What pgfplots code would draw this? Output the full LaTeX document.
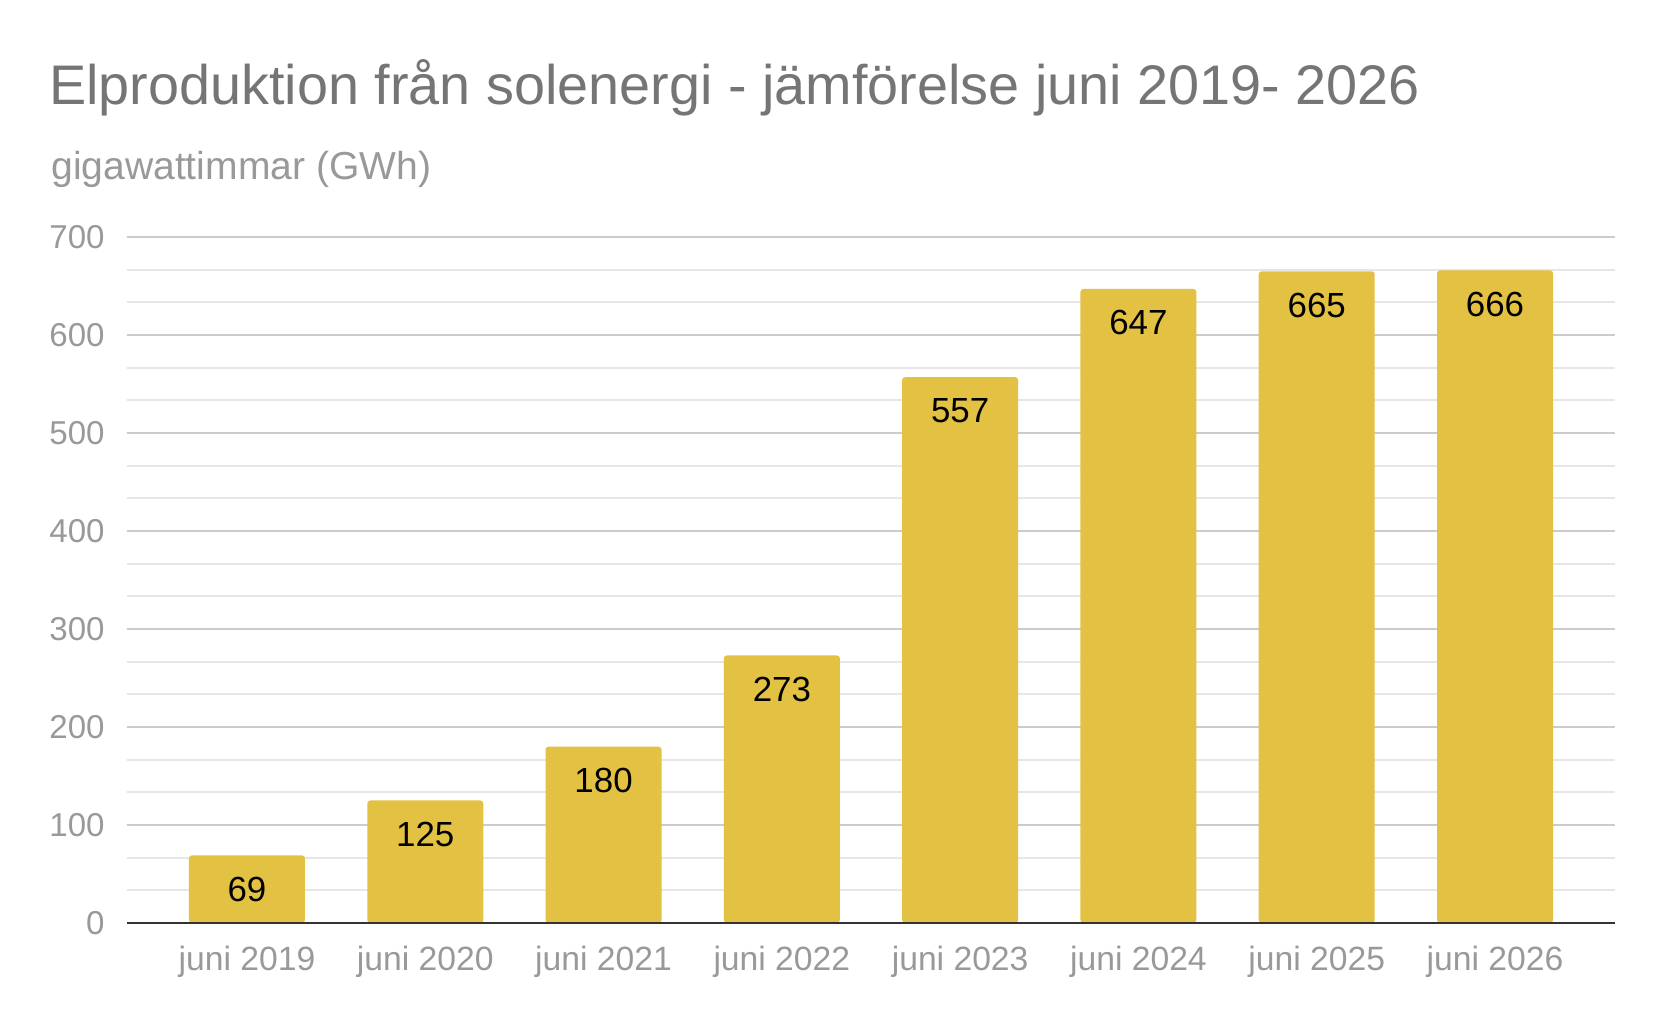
\documentclass[border=0pt]{standalone}
\usepackage{fontspec}
\setmainfont{Liberation Sans}
\usepackage{pgfplots}
\pgfplotsset{compat=1.18}
\definecolor{barc}{HTML}{E3C143}
\definecolor{gridmaj}{HTML}{CCCCCC}
\definecolor{gridmin}{HTML}{E6E6E6}
\definecolor{axisc}{HTML}{333333}
\definecolor{titlec}{HTML}{757575}
\definecolor{subc}{HTML}{999999}
\definecolor{tickc}{HTML}{999999}
\begin{document}
\begin{tikzpicture}
\useasboundingbox (0,0) rectangle (833bp,515bp);
\node[anchor=base west, inner sep=0, text=titlec, font=\fontsize{28}{34}\selectfont] at (24.4bp,462.5bp) {Elproduktion från solenergi - jämförelse juni 2019- 2026};
\node[anchor=base west, inner sep=0, text=subc, font=\fontsize{19.6}{24}\selectfont] at (25.5bp,425bp) {gigawattimmar (GWh)};
\begin{axis}[
  at={(63.5bp,53.5bp)}, anchor=south west,
  scale only axis, width=744bp, height=343bp,
  xmin=-0.673, xmax=7.673, ymin=0, ymax=700,
  ybar, bar width=58bp,
  xtick={0,...,7},
  xticklabels={juni 2019,juni 2020,juni 2021,juni 2022,juni 2023,juni 2024,juni 2025,juni 2026},
  ytick={0,100,...,700},
  minor y tick num=2,
  ymajorgrids, yminorgrids,
  major grid style={draw=gridmaj, line width=1.1bp},
  minor grid style={draw=gridmin, line width=1bp},
  axis line style={draw=none},
  major tick length=0pt, minor tick length=0pt,
  tick style={draw=none},
  /pgf/number format/assume math mode=true,
  xticklabel style={font=\fontsize{16.9}{20}\selectfont, text=tickc, anchor=base, inner sep=0pt, yshift=-23.5bp},
  yticklabel style={font=\fontsize{16.6}{20}\selectfont, text=tickc, anchor=east, inner sep=0pt, xshift=-11bp},
  nodes near coords,
  every node near coord/.append style={font=\fontsize{17.5}{20}\selectfont, text=black, anchor=center, inner sep=0pt, yshift=-17bp},
  clip=false,
]
\addplot[fill=barc, draw=none, rounded corners=1.5bp] coordinates {(0,69) (1,125) (2,180) (3,273) (4,557) (5,647) (6,665) (7,666)};
\draw[line width=1.2bp, color=axisc] (axis cs:-0.673,0) -- (axis cs:7.673,0);
\end{axis}
\end{tikzpicture}
\end{document}
